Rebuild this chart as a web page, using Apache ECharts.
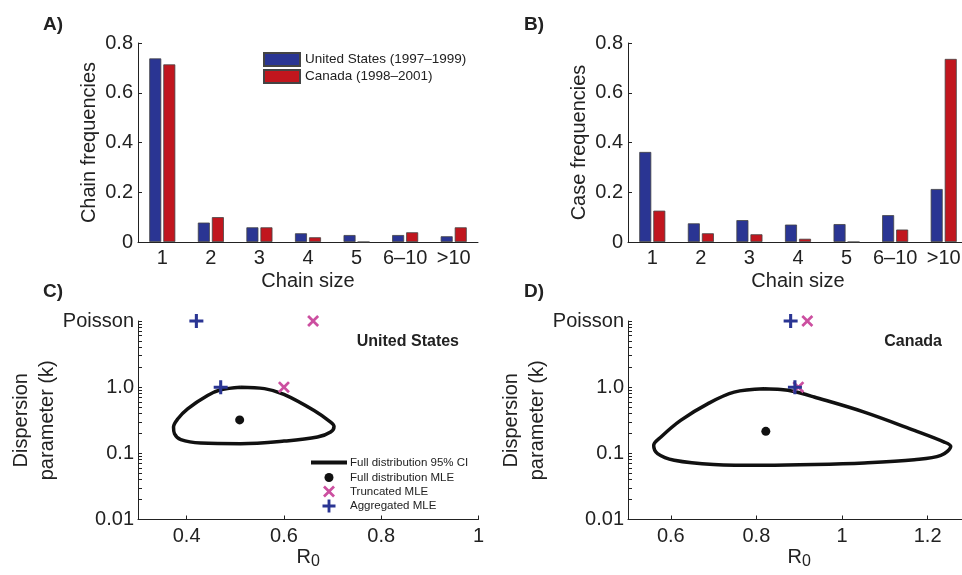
<!DOCTYPE html>
<html>
<head>
<meta charset="utf-8">
<title>Chain sizes and R0 / k estimates</title>
<script src="https://cdn.jsdelivr.net/npm/echarts@6/dist/echarts.min.js"></script>
<style>
  html, body { margin: 0; height: 100%; background: #fff; overflow: hidden; }
  /* the right-hand panels run slightly past the page edge, as in the original figure */
  #chart { width: 972px; height: 575px; }
</style>
</head>
<body>
<div id="chart"></div>
<script>
// chain size categories
var sizes = ['1', '2', '3', '4', '5', '6\u201310', '>10'];
// A) chain frequencies
var chainUS = [0.738, 0.078, 0.059, 0.035, 0.028, 0.028, 0.023];
var chainCA = [0.714, 0.100, 0.059, 0.019, 0, 0.039, 0.059];
// B) case frequencies
var caseUS = [0.362, 0.075, 0.088, 0.070, 0.072, 0.108, 0.213];
var caseCA = [0.126, 0.035, 0.031, 0.013, 0, 0.050, 0.736];

// C) United States, [R0, k]; k = 10 is the Poisson row
var usCI = [[0.511,1.0],[0.560,0.95],[0.600,0.78],[0.662,0.445],[0.696,0.297],[0.703,0.255],[0.696,0.21],
            [0.669,0.176],[0.600,0.153],[0.511,0.14],[0.429,0.143],[0.388,0.161],[0.375,0.198],[0.373,0.249],
            [0.382,0.333],[0.402,0.471],[0.443,0.748],[0.470,0.912],[0.511,1.0]];
var usMLE = [[0.509, 0.32]];
var usTrunc = [[0.66, 10], [0.60, 1.0]];
var usAggr = [[0.42, 10], [0.47, 1.0]];

// D) Canada
var caCI = [[0.818,0.944],[0.748,0.84],[0.686,0.56],[0.623,0.315],[0.577,0.177],[0.560,0.132],[0.569,0.099],
            [0.608,0.0785],[0.700,0.068],[0.818,0.066],[0.935,0.0676],[1.052,0.0715],[1.169,0.080],[1.231,0.093],
            [1.254,0.128],[1.239,0.148],[1.169,0.222],[1.052,0.42],[0.935,0.71],[0.888,0.86],[0.857,0.92],[0.818,0.944]];
var caMLE = [[0.822, 0.215]];
var caTrunc = [[0.919, 10], [0.898, 1.0]];
var caAggr = [[0.880, 10], [0.890, 1.0]];

var freqTicks = [0, 0.2, 0.4, 0.6, 0.8];
var usR0Ticks = [0.4, 0.6, 0.8, 1];
var caR0Ticks = [0.6, 0.8, 1, 1.2];
var kTicks = [0.01, 0.1, 1, 10];

var FONT = "'Liberation Sans', Arial, Helvetica, sans-serif";
var BLUE = '#2a3593', RED = '#c1161e', PINK = '#cc4fa0', INK = '#222';
var FS = 20;

var PLUS = 'path://M0.39,0 H0.61 V0.39 H1 V0.61 H0.61 V1 H0.39 V0.61 H0 V0.39 H0.39 Z';
var CROSS = 'path://M0,0.16 L0.16,0 L0.5,0.34 L0.84,0 L1,0.16 L0.66,0.5 L1,0.84 L0.84,1 L0.5,0.66 L0.16,1 L0,0.84 L0.34,0.5 Z';

var minorK = [];
[0.01, 0.1, 1].forEach(function (d) {
  for (var m = 1; m < 10; m++) minorK.push(+(d * m).toPrecision(3));
});
minorK.push(10);

function kLabel(v) {
  if (Math.abs(v - 10) < 1e-6) return 'Poisson';
  if (Math.abs(v - 1) < 1e-6) return '1.0';
  return String(+v.toPrecision(3));
}

var chart = echarts.init(document.getElementById('chart'));

function catAxis(idx) {
  return {
    type: 'category', gridIndex: idx, data: sizes,
    name: 'Chain size', nameLocation: 'middle', nameGap: 29,
    nameTextStyle: { fontSize: FS, color: INK, fontFamily: FONT },
    axisLine: { lineStyle: { color: INK, width: 1 } },
    axisTick: { inside: true, alignWithLabel: true, length: 3, lineStyle: { color: '#888' } },
    axisLabel: { interval: 0, fontSize: FS, color: INK, fontFamily: FONT, margin: 6 }
  };
}
function freqAxis(idx, name) {
  return {
    type: 'value', gridIndex: idx, min: 0, max: 0.8, interval: 0.2,
    name: name, nameLocation: 'middle', nameGap: 39,
    nameTextStyle: { fontSize: FS, color: INK, fontFamily: FONT },
    splitLine: { show: false },
    axisLine: { show: true, lineStyle: { color: INK, width: 1 } },
    axisTick: { show: true, inside: true, length: 4, lineStyle: { color: INK } },
    axisLabel: { fontSize: FS, color: INK, fontFamily: FONT, margin: 5, customValues: freqTicks }
  };
}
function r0Axis(idx, min, max, ticks) {
  return {
    type: 'value', gridIndex: idx, min: min, max: max,
    name: '{r|R}{s|0}', nameLocation: 'middle', nameGap: 28, nameMoveOverlap: false,
    nameTextStyle: { color: INK, fontFamily: FONT, rich: {
      r: { fontSize: FS, lineHeight: 22, verticalAlign: 'top', color: INK, fontFamily: FONT },
      s: { fontSize: 16, lineHeight: 16, padding: [12, 0, 0, 0], verticalAlign: 'bottom', color: INK, fontFamily: FONT }
    } },
    splitLine: { show: false },
    axisLine: { show: true, onZero: false, lineStyle: { color: INK, width: 1 } },
    axisTick: { show: true, inside: true, length: 4, customValues: ticks, lineStyle: { color: INK } },
    axisLabel: { fontSize: FS, color: INK, fontFamily: FONT, margin: 7, customValues: ticks }
  };
}
function kAxis(idx) {
  return {
    type: 'log', logBase: 10, gridIndex: idx, min: 0.01, max: 10,
    name: 'Dispersion\nparameter (k)', nameLocation: 'middle', nameGap: 78, nameMoveOverlap: false,
    nameTextStyle: { fontSize: FS, lineHeight: 26, color: INK, fontFamily: FONT },
    splitLine: { show: false },
    axisLine: { show: true, onZero: false, lineStyle: { color: INK, width: 1 } },
    axisTick: { show: true, inside: true, length: 4, customValues: minorK, lineStyle: { color: INK } },
    axisLabel: { fontSize: FS, color: INK, fontFamily: FONT, margin: 4, customValues: kTicks, formatter: kLabel }
  };
}
function barSeries(name, idx, data, color) {
  return {
    type: 'bar', name: name, xAxisIndex: idx, yAxisIndex: idx, data: data,
    barWidth: 12, barGap: '17%',
    itemStyle: { color: color, borderColor: '#444', borderWidth: 0.8 }
  };
}
function ciSeries(idx, data) {
  return {
    type: 'line', name: 'Full distribution 95% CI', xAxisIndex: idx, yAxisIndex: idx,
    data: data, smooth: 0.35, symbol: 'none',
    lineStyle: { color: '#111', width: 3.5 }, itemStyle: { color: '#111' }, z: 3
  };
}
function markSeries(name, idx, data, symbol, size, color) {
  return {
    type: 'scatter', name: name, xAxisIndex: idx, yAxisIndex: idx, data: data,
    symbol: symbol, symbolSize: size, itemStyle: { color: color, opacity: 1 }, z: 5
  };
}
// one legend per row so each marker keeps its own size; text lines up at x = 350
function legendRow(name, top, left, w, h, icon) {
  return {
    data: [name], left: left, top: top, padding: 0, orient: 'vertical',
    itemWidth: w, itemHeight: h, itemGap: 0, selectedMode: false, icon: icon,
    textStyle: { fontSize: 11.5, color: INK, fontFamily: FONT, padding: [0, 0, 0, 345 - left - w] }
  };
}

var titleStyle = { fontSize: 19, fontWeight: 'bold', color: INK, fontFamily: FONT };
var countryStyle = { fontSize: 16, fontWeight: 'bold', color: INK, fontFamily: FONT };

chart.setOption({
  animation: false,
  textStyle: { fontFamily: FONT },
  title: [
    { text: 'A)', left: 38, top: 10, textStyle: titleStyle },
    { text: 'B)', left: 519, top: 10, textStyle: titleStyle },
    { text: 'C)', left: 38, top: 277, textStyle: titleStyle },
    { text: 'D)', left: 519, top: 277, textStyle: titleStyle },
    { text: 'United States', right: 508, top: 329, textStyle: countryStyle },
    { text: 'Canada', right: 25, top: 329, textStyle: countryStyle }
  ],
  legend: [
    { data: ['United States (1997\u20131999)', 'Canada (1998\u20132001)'], left: 263, top: 52, padding: 0,
      orient: 'vertical', itemWidth: 36, itemHeight: 13, itemGap: 2, selectedMode: false, icon: 'rect',
      textStyle: { fontSize: 13.5, color: INK, fontFamily: FONT } },
    legendRow('Full distribution 95% CI', 456.5, 311, 36, 4, 'rect'),
    legendRow('Full distribution MLE', 471.5, 324.5, 9, 9, 'circle'),
    legendRow('Truncated MLE', 485.5, 323, 12, 12, CROSS),
    legendRow('Aggregated MLE', 499.5, 322.5, 13, 13, PLUS)
  ],
  grid: [
    { left: 138, top: 43, width: 340, height: 199 },
    { left: 628, top: 43, width: 340, height: 199 },
    { left: 138, top: 321, width: 340.5, height: 198.5 },
    { left: 628, top: 321, width: 342.4, height: 198.5 }
  ],
  xAxis: [catAxis(0), catAxis(1), r0Axis(2, 0.3, 1.0, usR0Ticks), r0Axis(3, 0.5, 1.3, caR0Ticks)],
  yAxis: [freqAxis(0, 'Chain frequencies'), freqAxis(1, 'Case frequencies'), kAxis(2), kAxis(3)],
  series: [
    barSeries('United States (1997\u20131999)', 0, chainUS, BLUE),
    barSeries('Canada (1998\u20132001)', 0, chainCA, RED),
    barSeries('United States (1997\u20131999)', 1, caseUS, BLUE),
    barSeries('Canada (1998\u20132001)', 1, caseCA, RED),
    ciSeries(2, usCI),
    markSeries('Full distribution MLE', 2, usMLE, 'circle', 9, '#111'),
    markSeries('Truncated MLE', 2, usTrunc, CROSS, 12, PINK),
    markSeries('Aggregated MLE', 2, usAggr, PLUS, 14, BLUE),
    ciSeries(3, caCI),
    markSeries('Full distribution MLE', 3, caMLE, 'circle', 9, '#111'),
    markSeries('Truncated MLE', 3, caTrunc, CROSS, 12, PINK),
    markSeries('Aggregated MLE', 3, caAggr, PLUS, 14, BLUE)
  ]
});
</script>
</body>
</html>
